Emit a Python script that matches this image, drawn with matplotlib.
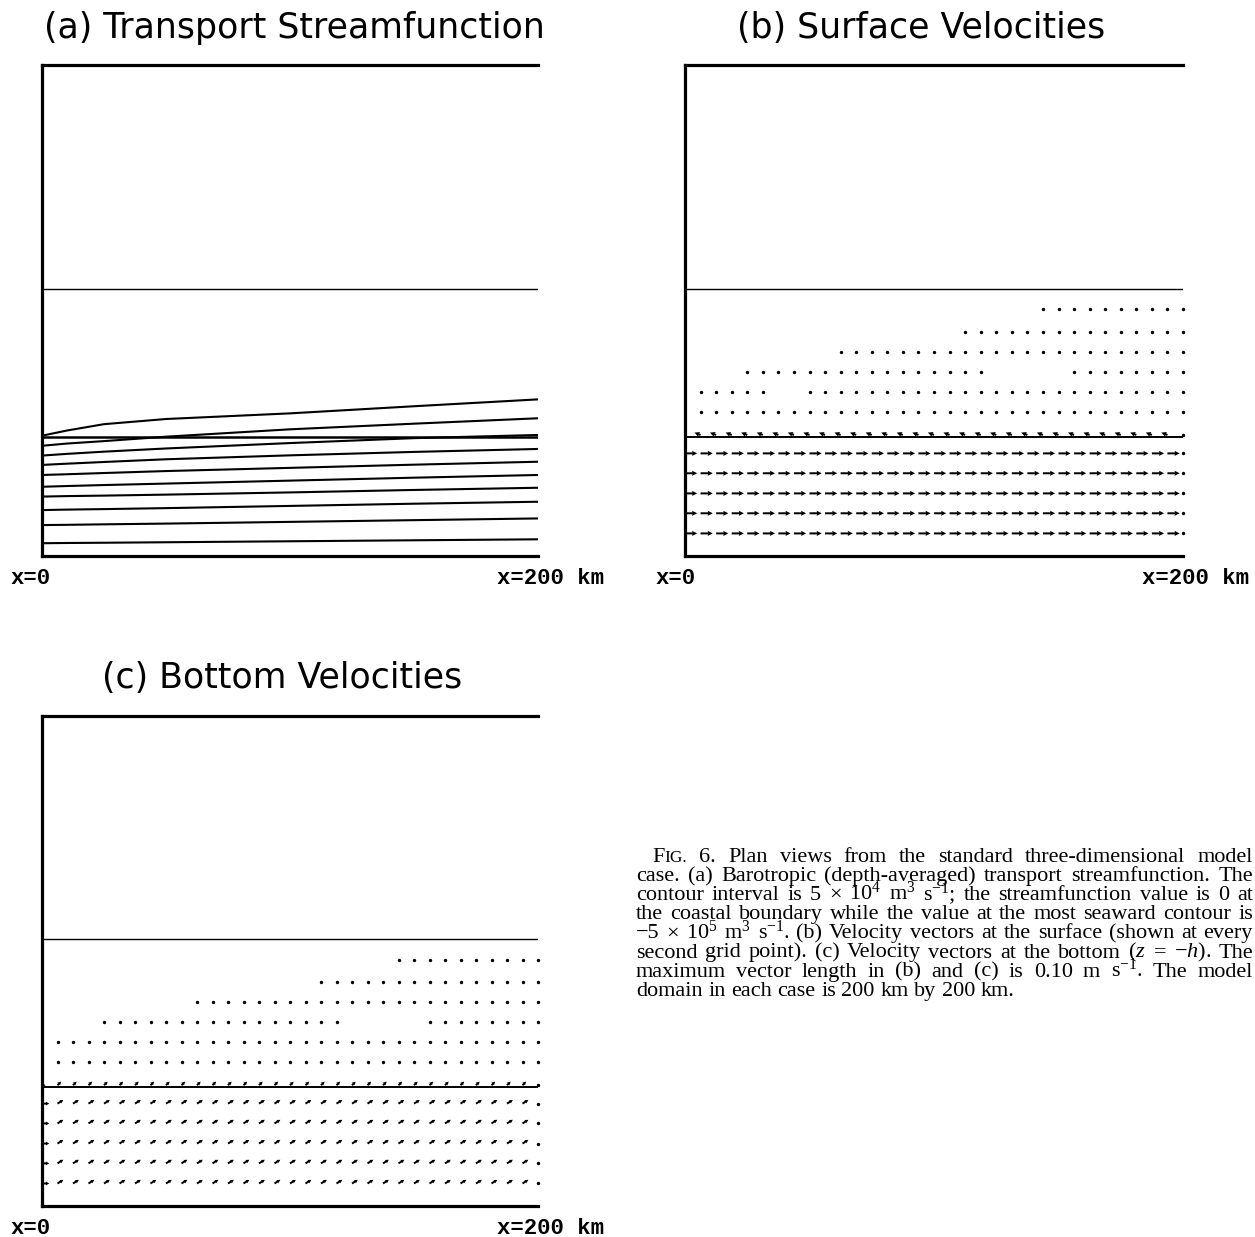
import numpy as np
import matplotlib
matplotlib.use('Agg')
import matplotlib.pyplot as plt

plt.rcParams['mathtext.fontset'] = 'custom'
plt.rcParams['mathtext.rm'] = 'Liberation Serif'
plt.rcParams['mathtext.it'] = 'Liberation Serif:italic'

W, H = 1255, 1237

# model grid (km), vectors drawn at every second grid point
x_km = np.arange(33) * 6.25
y_rows = [9.2, 17.4, 25.5, 33.7, 41.8, 49.3, 58.8, 66.9, 75.1, 83.2, 91.4, 100.5]

shelf_y = 48.5
mid_y = 108.8

# (a) streamfunction contours, -0.5 ... -5 x 10^5 m3/s, read at these x positions
contour_x = [0, 10, 25, 50, 100, 150, 200]
psi_contours = [
    [5.2, 5.3, 5.4, 5.6, 6.0, 6.4, 6.8],
    [12.6, 12.7, 12.9, 13.2, 13.9, 14.6, 15.3],
    [18.7, 18.9, 19.1, 19.5, 20.4, 21.3, 22.1],
    [24.2, 24.4, 24.6, 25.0, 25.9, 26.9, 27.8],
    [28.2, 28.5, 28.9, 29.5, 30.7, 31.9, 33.0],
    [33.0, 33.3, 33.8, 34.6, 35.9, 37.2, 38.4],
    [37.1, 37.6, 38.3, 39.4, 41.0, 42.4, 43.6],
    [40.9, 41.6, 42.5, 43.8, 46.0, 48.0, 49.3],
    [44.9, 45.8, 46.8, 48.6, 51.6, 53.9, 56.1],
    [49.0, 51.1, 53.7, 55.8, 58.1, 61.0, 63.8],
]

# (b) surface velocities (m/s) for the six lowest rows; interior and west column
surf_u = [0.10, 0.10, 0.10, 0.10, 0.10, -0.05]
surf_v = [0.0, 0.0, 0.0, 0.0, 0.0, 0.02]
surf_u_west = [0.10, 0.10, 0.10, 0.10, 0.10, -0.05]
surf_v_west = [0.0, 0.0, 0.0, 0.0, 0.0, 0.02]
# grid columns with (zero) vectors in the upper six rows
surf_dots = [[(1, 32)], [(1, 5), (8, 32)], [(4, 19), (25, 32)], [(10, 32)], [(18, 32)], [(23, 32)]]

# (c) bottom velocities (m/s)
bot_u = [0.048, 0.048, 0.048, 0.048, 0.048, 0.03]
bot_v = [0.030, 0.030, 0.030, 0.030, 0.030, 0.03]
bot_u_west = [0.06, 0.06, 0.06, 0.06, 0.06, 0.03]
bot_v_west = [0.0, 0.0, 0.0, 0.0, 0.0, 0.0]
bot_dots = [[(1, 32)], [(1, 32)], [(4, 19), (25, 32)], [(10, 32)], [(18, 32)], [(23, 32)]]


def build_field(u_rows, v_rows, u_west, v_west, dot_rows):
    u = np.full((len(y_rows), len(x_km)), np.nan)
    v = np.full_like(u, np.nan)
    for j in range(len(u_rows)):
        u[j, 1:-1] = u_rows[j]
        v[j, 1:-1] = v_rows[j]
        u[j, 0] = u_west[j]
        v[j, 0] = v_west[j]
        u[j, -1] = 0.0
        v[j, -1] = 0.0
    for j, segs in enumerate(dot_rows):
        for a, b in segs:
            u[len(u_rows) + j, a:b + 1] = 0.0
            v[len(u_rows) + j, a:b + 1] = 0.0
    return u, v


def make_axes(fig, left, top, right, bottom):
    ax = fig.add_axes([left / W, 1 - bottom / H, (right - left) / W, (bottom - top) / H])
    ax.set_xlim(0, 200)
    ax.set_ylim(0, 200)
    ax.set_xticks([])
    ax.set_yticks([])
    ax.spines['right'].set_visible(False)
    for s in ['left', 'bottom', 'top']:
        ax.spines[s].set_linewidth(2.3)
    ax.axhline(mid_y, color='black', lw=1.0)
    return ax


def draw_vectors(ax, u, v, head):
    X, Y = np.meshgrid(x_km, y_rows)
    spd = np.hypot(u, v)
    moving = np.isfinite(spd) & (spd > 0)
    still = np.isfinite(spd) & (spd == 0)
    ax.quiver(X[moving], Y[moving], u[moving], v[moving], angles='xy',
              scale_units='xy', scale=0.1 / 4.9, units='width', width=0.004,
              headwidth=head[0], headlength=head[1], headaxislength=head[2],
              color='black')
    ax.scatter(X[still], Y[still], s=6, c='black', linewidths=0, clip_on=False)
    ax.axhline(shelf_y, color='black', lw=1.4)


fig = plt.figure(figsize=(W / 100, H / 100), dpi=100)

tfont = dict(family='DejaVu Sans', fontsize=25, ha='center', va='center')
lab = dict(family='Liberation Mono', fontweight='bold', fontsize=16, va='center')

# (a)
ax_a = make_axes(fig, 42, 65, 538, 556)
ax_a.axhline(shelf_y, color='black', lw=1.8)
for ys in psi_contours:
    ax_a.plot(contour_x, ys, color='black', lw=1.5)
fig.text(294 / W, 1 - 28 / H, '(a) Transport Streamfunction', **tfont)
fig.text(31 / W, 1 - 578 / H, 'x=0', ha='center', **lab)
fig.text(497 / W, 1 - 578 / H, 'x=200 km', ha='left', **lab)

# (b)
ax_b = make_axes(fig, 685, 65, 1183, 556)
u, v = build_field(surf_u, surf_v, surf_u_west, surf_v_west, surf_dots)
draw_vectors(ax_b, u, v, (2.6, 2.6, 2.3))
fig.text(921 / W, 1 - 28 / H, '(b) Surface Velocities', **tfont)
fig.text(676 / W, 1 - 578 / H, 'x=0', ha='center', **lab)
fig.text(1142 / W, 1 - 578 / H, 'x=200 km', ha='left', **lab)

# (c)
ax_c = make_axes(fig, 42, 716, 538, 1206)
u, v = build_field(bot_u, bot_v, bot_u_west, bot_v_west, bot_dots)
draw_vectors(ax_c, u, v, (2.0, 1.8, 1.6))
fig.text(282 / W, 1 - 678 / H, '(c) Bottom Velocities', **tfont)
fig.text(31 / W, 1 - 1228 / H, 'x=0', ha='center', **lab)
fig.text(497 / W, 1 - 1228 / H, 'x=200 km', ha='left', **lab)

# caption, justified by hand
cap_fs = 16
caption = [
    'FIG. 6. Plan views from the standard three-dimensional model',
    'case. (a) Barotropic (depth-averaged) transport streamfunction. The',
    r'contour interval is 5 × 10$^4$ m$^3$ s$^{-1}$; the streamfunction value is 0 at',
    'the coastal boundary while the value at the most seaward contour is',
    r'−5 × 10$^5$ m$^3$ s$^{-1}$. (b) Velocity vectors at the surface (shown at every',
    r'second grid point). (c) Velocity vectors at the bottom ($z$ = $-h$). The',
    r'maximum vector length in (b) and (c) is 0.10 m s$^{-1}$. The model',
    'domain in each case is 200 km by 200 km.',
]
renderer = fig.canvas.get_renderer()
for i, line in enumerate(caption):
    y = 1 - (862 + 19.1 * i) / H
    x0 = 652 if i == 0 else 636
    words = []
    for w in line.split(' '):
        if w == 'FIG.':
            words.append([('F', cap_fs), ('IG.', cap_fs * 0.78)])
        else:
            words.append([(w, cap_fs)])
    items = []
    for w in words:
        parts = [fig.text(0, y, s, fontsize=sz, family='Liberation Serif', va='baseline')
                 for s, sz in w]
        widths = [p.get_window_extent(renderer).width for p in parts]
        items.append((parts, widths))
    total = sum(sum(ws) for _, ws in items)
    if i < len(caption) - 1:
        gap = (1253 - x0 - total) / (len(items) - 1)
    else:
        gap = cap_fs * 0.25 * 100 / 72
    x = x0
    for parts, widths in items:
        for p, wd in zip(parts, widths):
            p.set_x(x / W)
            x += wd
        x += gap

fig.savefig('out.png', dpi=100)
